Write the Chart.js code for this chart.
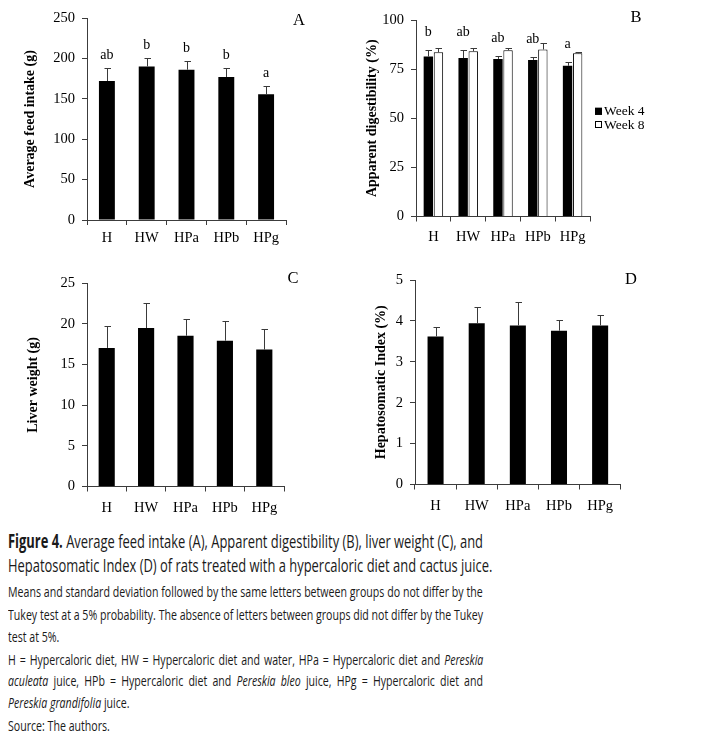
<!DOCTYPE html>
<html><head><meta charset="utf-8">
<script src="https://cdn.jsdelivr.net/npm/chart.js@4.4.0/dist/chart.umd.min.js"></script>
<style>
html,body{margin:0;padding:0;background:#fff;}
body{width:709px;height:742px;overflow:hidden;position:relative;}
canvas{position:absolute;}
.pl{position:absolute;font-family:"Liberation Serif",serif;font-size:16.5px;line-height:16px;transform:translate(-50%,-50%);color:#000;}
.cap{position:absolute;left:8px;font-family:"Open Sans",sans-serif;white-space:nowrap;transform-origin:0 0;color:#1a1a1a;}
.big{font-size:19px;line-height:19px;}
.sm{font-size:15px;line-height:15px;}
</style></head><body>
<canvas id="cA" width="354" height="255" style="left:0;top:0"></canvas>
<canvas id="cB" width="355" height="255" style="left:354px;top:0"></canvas>
<canvas id="cC" width="354" height="262" style="left:0;top:258px"></canvas>
<canvas id="cD" width="355" height="262" style="left:354px;top:258px"></canvas>
<div class="pl" style="left:299px;top:20px">A</div>
<div class="pl" style="left:636px;top:17px">B</div>
<div class="pl" style="left:293px;top:278px">C</div>
<div class="pl" style="left:631px;top:279px">D</div>

<div class="cap big" data-g="1" data-full="1" style="top:531.5px"><b>Figure 4.</b> Average feed intake (A), Apparent digestibility (B), liver weight (C), and</div>
<div class="cap big" data-g="1" style="top:556px">Hepatosomatic Index (D) of rats treated with a hypercaloric diet and cactus juice.</div>
<div class="cap sm" data-g="2" data-full="1" style="top:583.5px">Means and standard deviation followed by the same letters between groups do not differ by the</div>
<div class="cap sm" data-g="2" data-full="1" style="top:606.5px">Tukey test at a 5% probability. The absence of letters between groups did not differ by the Tukey</div>
<div class="cap sm" data-g="2" style="top:628.5px">test at 5%.</div>
<div class="cap sm" data-g="2" data-full="1" style="top:651.5px">H = Hypercaloric diet, HW = Hypercaloric diet and water, HPa = Hypercaloric diet and <i>Pereskia</i></div>
<div class="cap sm" data-g="2" data-full="1" style="top:673px"><i>aculeata</i> juice, HPb = Hypercaloric diet and <i>Pereskia bleo</i> juice, HPg = Hypercaloric diet and</div>
<div class="cap sm" data-g="2" style="top:695px"><i>Pereskia grandifolia</i> juice.</div>
<div class="cap sm" data-g="2" style="top:717.5px">Source: The authors.</div>

<script>
// ---------- data ----------
const categories = ['H', 'HW', 'HPa', 'HPb', 'HPg'];

const feedIntake   = [172, 190, 186, 177, 155.5];
const feedIntakeSD = [16, 11, 11, 11, 10];
const feedLetters  = ['ab', 'b', 'b', 'b', 'a'];
const ticksA = [0, 50, 100, 150, 200, 250];

const digestWeek4   = [81.4, 80.6, 80.2, 79.7, 76.7];
const digestWeek4SD = [3.1, 3.9, 1.6, 1.7, 1.8];
const digestWeek8   = [83.6, 84.1, 84.6, 85.0, 83.1];
const digestWeek8SD = [1.9, 1.9, 0.9, 3.3, 0.5];
const digestLetters = ['b', 'ab', 'ab', 'ab', 'a'];
const seriesNamesB  = ['Week 4', 'Week 8'];
const ticksB = [0, 25, 50, 75, 100];

const liverWeight   = [17.05, 19.5, 18.55, 17.94, 16.84];
const liverWeightSD = [2.65, 3.05, 2.05, 2.45, 2.56];
const ticksC = [0, 5, 10, 15, 20, 25];

const hsi   = [3.62, 3.94, 3.89, 3.76, 3.89];
const hsiSD = [0.24, 0.39, 0.58, 0.26, 0.25];
const ticksD = [0, 1, 2, 3, 4, 5];

// ---------- styles ----------
const SERIF = '"Liberation Serif", "Times New Roman", serif';
const AXIS = '#3c3c3c';

const errorBarPlugin = {
  id: 'errorBars',
  afterDatasetsDraw(chart, args, opts) {
    const ctx = chart.ctx;
    const ys = chart.scales.y;
    chart.data.datasets.forEach((ds, di) => {
      if (!ds.errors) return;
      const meta = chart.getDatasetMeta(di);
      meta.data.forEach((bar, i) => {
        const top = ys.getPixelForValue(ds.data[i] + ds.errors[i]);
        const x = Math.round(bar.x) + 0.5;
        const t = Math.round(top) + 0.5;
        ctx.save();
        ctx.strokeStyle = opts.color || '#3a3a3a';
        ctx.lineWidth = 1;
        ctx.beginPath();
        ctx.moveTo(x, bar.y);
        ctx.lineTo(x, t);
        ctx.moveTo(x - 3, t);
        ctx.lineTo(x + 3.5, t);
        ctx.stroke();
        if (ds.letters) {
          ctx.fillStyle = '#000';
          ctx.font = '14px ' + SERIF;
          ctx.textAlign = 'center';
          ctx.textBaseline = 'alphabetic';
          ctx.fillText(ds.letters[i], bar.x, top - opts.letterGap);
        }
        ctx.restore();
      });
    });
  }
};

const sideLegendPlugin = {
  id: 'sideLegend',
  afterDraw(chart, args, opts) {
    if (!opts.display) return;
    const ctx = chart.ctx;
    chart.data.datasets.forEach((ds, i) => {
      const cy = opts.y + i * opts.step;
      ctx.save();
      ctx.fillStyle = ds.backgroundColor;
      ctx.fillRect(opts.x, cy - 3.5, 7, 7);
      ctx.strokeStyle = '#000';
      ctx.lineWidth = 1;
      ctx.strokeRect(opts.x + 0.5, cy - 3, 6, 6);
      ctx.fillStyle = '#000';
      ctx.font = '13.5px ' + SERIF;
      ctx.textAlign = 'left';
      ctx.textBaseline = 'middle';
      ctx.fillText(ds.label, opts.x + 9, cy + 0.5);
      ctx.restore();
    });
  }
};

function makeChart(id, c) {
  const ticks = c.ticks;
  return new Chart(document.getElementById(id), {
    type: 'bar',
    data: { labels: categories, datasets: c.datasets },
    plugins: [errorBarPlugin, sideLegendPlugin],
    options: {
      responsive: false,
      animation: false,
      layout: { padding: { left: 0, top: c.padTop, right: c.padRight, bottom: 0 } },
      plugins: {
        legend: { display: false },
        tooltip: { enabled: false },
        errorBars: { letterGap: c.letterGap || 9 },
        sideLegend: c.legend || { display: false }
      },
      datasets: { bar: { categoryPercentage: c.catPct, barPercentage: c.barPct } },
      scales: {
        x: {
          offset: true,
          grid: { display: true, offset: true, drawOnChartArea: false, drawTicks: true, tickLength: 5, color: AXIS, lineWidth: 1 },
          border: { display: true, color: AXIS, width: 1 },
          ticks: { color: '#000', font: { family: SERIF, size: 14.5 }, padding: c.xPad, autoSkip: false, maxRotation: 0 },
          afterFit: s => { s.height = c.xH; }
        },
        y: {
          min: ticks[0], max: ticks[ticks.length - 1],
          grid: { display: true, drawOnChartArea: false, drawTicks: true, tickLength: 5, color: AXIS, lineWidth: 1 },
          border: { display: true, color: AXIS, width: 1 },
          ticks: { stepSize: ticks[1] - ticks[0], color: '#000', font: { family: SERIF, size: 14.5 }, padding: 7 },
          title: { display: true, text: c.title, color: '#000', font: { family: SERIF, size: 14, weight: 'bold' }, padding: { top: c.titlePad, bottom: 0 } },
          afterFit: s => { s.width = c.yW; }
        }
      }
    }
  });
}

const blackBar = { backgroundColor: '#000', borderColor: '#000', borderWidth: 0 };

makeChart('cA', {
  ticks: ticksA, title: 'Average feed intake (g)',
  padTop: 18, padRight: 68, yW: 87, xH: 35, xPad: 4.5, titlePad: 22,
  catPct: 0.40, barPct: 1.0, letterGap: 9,
  datasets: [Object.assign({ label: 'Average feed intake', data: feedIntake, errors: feedIntakeSD, letters: feedLetters }, blackBar)]
});

makeChart('cB', {
  ticks: ticksB, title: 'Apparent digestibility (%)',
  padTop: 20, padRight: 119, yW: 62, xH: 38.5, xPad: 6.5, titlePad: 9.5,
  catPct: 0.58, barPct: 0.93, letterGap: 14,
  legend: { display: true, x: 241, y: 111.3, step: 13.2 },
  datasets: [
    Object.assign({ label: seriesNamesB[0], data: digestWeek4, errors: digestWeek4SD, letters: digestLetters }, blackBar),
    { label: seriesNamesB[1], data: digestWeek8, errors: digestWeek8SD, backgroundColor: '#fff', borderColor: '#000', borderWidth: 1, borderSkipped: 'bottom' }
  ]
});

makeChart('cC', {
  ticks: ticksC, title: 'Liver weight (g)',
  padTop: 25.3, padRight: 70, yW: 87, xH: 33.5, xPad: 7.5, titlePad: 25,
  catPct: 0.41, barPct: 1.0,
  datasets: [Object.assign({ label: 'Liver weight', data: liverWeight, errors: liverWeightSD }, blackBar)]
});

makeChart('cD', {
  ticks: ticksD, title: 'Hepatosomatic Index (%)',
  padTop: 22, padRight: 88.3, yW: 61, xH: 35.5, xPad: 8, titlePad: 19,
  catPct: 0.39, barPct: 1.0,
  datasets: [Object.assign({ label: 'Hepatosomatic Index', data: hsi, errors: hsiSD }, blackBar)]
});

// ---------- caption fitting (condensed, justified lines) ----------
const TARGET = 475;
function fitGroup(g) {
  const lines = Array.from(document.querySelectorAll('.cap[data-g="' + g + '"]'));
  const full = lines.filter(l => l.dataset.full);
  lines.forEach(l => { l.style.wordSpacing = '0px'; });
  let k = Infinity;
  full.forEach(l => { k = Math.min(k, TARGET / l.scrollWidth); });
  lines.forEach(l => { l.style.transform = 'scaleX(' + k + ')'; });
  full.forEach(l => {
    const spaces = (l.textContent.match(/ /g) || []).length;
    const extra = TARGET / k - l.scrollWidth;
    if (spaces > 0 && extra > 0) l.style.wordSpacing = (extra / spaces) + 'px';
  });
}
document.fonts.ready.then(() => { fitGroup('1'); fitGroup('2'); });
fitGroup('1'); fitGroup('2');
</script>
</body></html>
